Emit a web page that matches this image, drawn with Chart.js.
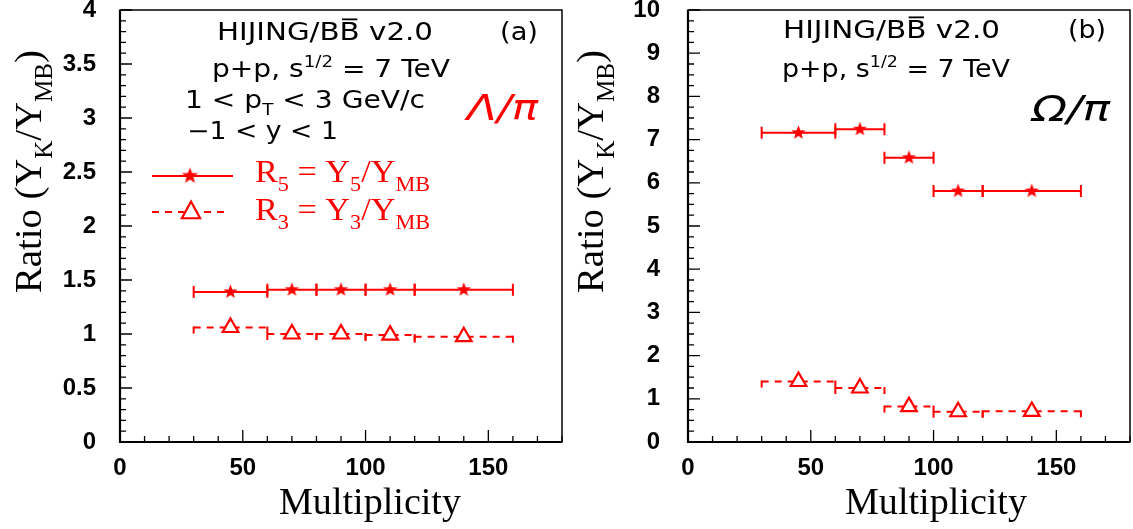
<!doctype html>
<html lang="en">
  <head>
    <meta charset="UTF-8" />
    <title>HIJING/BB v2.0 ratios</title>
    <script src="https://cdn.jsdelivr.net/npm/chart.js"></script>
    <style>
      body { margin: 0; background: white; }
      canvas { position: absolute; top: 0; }
    </style>
  </head>
  <body>
    <canvas id="panelA" width="566" height="529" style="left: 0px"></canvas>
    <canvas id="panelB" width="567" height="529" style="left: 566px"></canvas>

    <script>
      // multiplicity bins (low edge, high edge, centre)
      const binLo = [30, 60, 80, 100, 120];
      const binHi = [60, 80, 100, 120, 160];
      const binMid = [45, 70, 90, 110, 140];

      // Lambda/pi  (panel a)
      const lambdaR5 = [1.39, 1.41, 1.41, 1.41, 1.41];
      const lambdaR3 = [1.06, 1.0, 1.0, 0.99, 0.975];

      // Omega/pi  (panel b)
      const omegaR5 = [7.16, 7.24, 6.58, 5.81, 5.81];
      const omegaR3 = [1.4, 1.25, 0.82, 0.7, 0.71];

      const xTicks = [0, 50, 100, 150];
      const RED = "#ff0000";
      const SERIF = "'Liberation Serif', 'Times New Roman', serif";
      const SANS = "'DejaVu Sans', sans-serif";

      function pts(vals) {
        return vals.map((v, i) => ({ x: binMid[i], y: v, lo: binLo[i], hi: binHi[i] }));
      }

      function starCanvas(r) {
        const c = document.createElement("canvas");
        const s = Math.ceil(r * 2 + 2);
        c.width = c.height = s;
        const g = c.getContext("2d");
        g.fillStyle = RED;
        g.beginPath();
        for (let i = 0; i < 10; i++) {
          const rr = i % 2 ? r * 0.42 : r;
          const a = -Math.PI / 2 + (i * Math.PI) / 5;
          g.lineTo(s / 2 + rr * Math.cos(a), s / 2 + rr * Math.sin(a));
        }
        g.closePath();
        g.fill();
        return c;
      }
      const starImg = starCanvas(7.5);
      const bigStar = starCanvas(8.5);

      // text with sub/superscripts, optional bar, optional fit width
      function rich(ctx, x, y, parts, o) {
        const size = o.size;
        const fontFor = (p) =>
          (o.style || "") + " " + (o.weight || "") + " " +
          ((p.sub || p.sup) ? size * 0.65 : size) + "px " + o.family;
        let total = 0;
        const widths = parts.map((p) => {
          ctx.font = fontFor(p);
          const w = ctx.measureText(p.t).width;
          total += w;
          return w;
        });
        ctx.save();
        ctx.translate(x, y);
        if (o.rotate) ctx.rotate(o.rotate);
        const k = o.width ? o.width / total : 1;
        ctx.scale(k, 1);
        let cx = o.alignRight ? -total : 0;
        ctx.fillStyle = o.color || "#000";
        ctx.strokeStyle = o.color || "#000";
        ctx.textBaseline = "alphabetic";
        ctx.textAlign = "left";
        parts.forEach((p, i) => {
          ctx.font = fontFor(p);
          let dy = 0;
          if (p.sub) dy = size * 0.3;
          if (p.sup) dy = -size * 0.42;
          ctx.fillText(p.t, cx, dy);
          if (p.bar) {
            ctx.lineWidth = 1.8;
            ctx.beginPath();
            ctx.moveTo(cx + 2, -size * 0.86);
            ctx.lineTo(cx + widths[i] - 2, -size * 0.86);
            ctx.stroke();
          }
          cx += widths[i];
        });
        ctx.restore();
      }

      // pin the plot frame to the reference geometry
      const pinArea = {
        id: "pinArea",
        afterLayout(chart) {
          const p = chart.options.plugins.decor;
          const { x, y } = chart.scales;
          const a = chart.chartArea;
          a.left = p.left; a.right = p.right; a.top = 10; a.bottom = 442;
          a.width = a.right - a.left; a.height = a.bottom - a.top;
          x.left = a.left; x.right = a.right; x.width = a.width;
          x.top = a.bottom; x.bottom = chart.height; x.height = x.bottom - x.top;
          y.left = 0; y.right = a.left; y.width = a.left;
          y.top = a.top; y.bottom = a.bottom; y.height = a.height;
          x.configure();
          y.configure();
        },
      };

      const errorBars = {
        id: "errorBars",
        beforeDatasetsDraw(chart) {
          const { ctx, scales: { x, y } } = chart;
          chart.data.datasets.forEach((ds) => {
            ctx.save();
            ctx.strokeStyle = RED;
            ctx.lineWidth = 2;
            ctx.setLineDash(ds.errDash || []);
            ds.data.forEach((p) => {
              const x0 = x.getPixelForValue(p.lo);
              const x1 = x.getPixelForValue(p.hi);
              const yy = y.getPixelForValue(p.y);
              ctx.beginPath();
              ctx.moveTo(x0, yy);
              ctx.lineTo(x1, yy);
              ctx.stroke();
              [x0, x1].forEach((xc) => {
                ctx.beginPath();
                ctx.moveTo(xc, yy + 6);
                ctx.lineTo(xc, yy - 6);
                ctx.stroke();
              });
            });
            ctx.restore();
          });
        },
      };

      const decor = {
        id: "decor",
        afterDraw(chart) {
          const cfg = chart.options.plugins.decor;
          const { ctx, chartArea: a, scales: { x, y } } = chart;
          ctx.save();
          // frame
          ctx.strokeStyle = "#000";
          ctx.lineWidth = 1.5;
          ctx.strokeRect(a.left, a.top, a.right - a.left, a.bottom - a.top);
          ctx.lineWidth = 2.2;
          ctx.beginPath();
          ctx.moveTo(a.left, a.top);
          ctx.lineTo(a.left, a.bottom);
          ctx.lineTo(a.right, a.bottom);
          ctx.stroke();
          // ticks, inward
          ctx.lineWidth = 1.3;
          ctx.beginPath();
          for (let v = 0; v <= 180 + 1e-9; v += 10) {
            const px = x.getPixelForValue(v);
            const len = v % 50 === 0 ? 12 : 6;
            ctx.moveTo(px, a.bottom);
            ctx.lineTo(px, a.bottom - len);
          }
          const nMinor = Math.round(cfg.yMax / cfg.yMinor);
          const per = Math.round(cfg.yStep / cfg.yMinor);
          for (let i = 0; i <= nMinor; i++) {
            const py = y.getPixelForValue(i * cfg.yMinor);
            const len = i % per === 0 ? 12 : 6;
            ctx.moveTo(a.left, py);
            ctx.lineTo(a.left + len, py);
          }
          ctx.stroke();
          ctx.restore();

          // axis titles
          rich(ctx, 461, 514, [{ t: "Multiplicity" }], { size: 37, family: SERIF, alignRight: true, width: 182 });
          rich(ctx, cfg.yTitleX, 50,
            [{ t: "Ratio (Y" }, { t: "K", sub: true }, { t: "/Y" }, { t: "MB", sub: true }, { t: ")" }],
            { size: 38, family: SERIF, rotate: -Math.PI / 2, alignRight: true, width: 243 });

          // annotations
          cfg.notes.forEach((n) => rich(ctx, n.x, n.y, n.parts, Object.assign({ family: SANS }, n)));

          if (cfg.legend) {
            ctx.save();
            ctx.strokeStyle = RED;
            ctx.lineWidth = 2;
            ctx.beginPath();
            ctx.moveTo(152, 176);
            ctx.lineTo(233, 176);
            ctx.stroke();
            ctx.drawImage(bigStar, 190 - bigStar.width / 2, 176 - bigStar.height / 2);
            ctx.setLineDash([7, 6]);
            ctx.beginPath();
            ctx.moveTo(152, 212);
            ctx.lineTo(230, 212);
            ctx.stroke();
            ctx.setLineDash([]);
            ctx.fillStyle = "#fff";
            ctx.lineWidth = 2.2;
            const r = 10.5;
            ctx.beginPath();
            ctx.moveTo(191, 212 - r);
            ctx.lineTo(191 + r * 0.866, 212 + r * 0.5 + 1);
            ctx.lineTo(191 - r * 0.866, 212 + r * 0.5 + 1);
            ctx.closePath();
            ctx.fill();
            ctx.stroke();
            ctx.restore();
            const lo = { size: 31, family: SERIF, color: RED, width: 175 };
            rich(ctx, 255, 182,
              [{ t: "R" }, { t: "5", sub: true }, { t: " = Y" }, { t: "5", sub: true }, { t: "/Y" }, { t: "MB", sub: true }], lo);
            rich(ctx, 255, 220,
              [{ t: "R" }, { t: "3", sub: true }, { t: " = Y" }, { t: "3", sub: true }, { t: "/Y" }, { t: "MB", sub: true }], lo);
          }
        },
      };

      const tickFont = { family: "'Liberation Sans', Arial, sans-serif", weight: "bold", size: 24 };

      function makePanel(id, r5, r3, p) {
        return new Chart(document.getElementById(id), {
          type: "scatter",
          data: {
            datasets: [
              { label: "R5", data: pts(r5), pointStyle: starImg, pointRadius: 7,
                borderColor: RED, backgroundColor: RED },
              { label: "R3", data: pts(r3), pointStyle: "triangle", pointRadius: 9, borderWidth: 2.2,
                borderColor: RED, backgroundColor: "#fff", errDash: [7, 6] },
            ],
          },
          options: {
            responsive: false,
            animation: false,
            events: [],
            layout: { padding: { left: 0, top: 10, right: 4, bottom: 0 } },
            plugins: {
              legend: { display: false },
              tooltip: { enabled: false },
              decor: p,
            },
            scales: {
              x: {
                type: "linear", min: 0, max: 180,
                grid: { display: false, drawTicks: false }, border: { display: false },
                afterBuildTicks: (s) => { s.ticks = xTicks.map((v) => ({ value: v })); },
                ticks: { padding: 12, font: tickFont, color: "#000", maxRotation: 0, callback: (v) => String(v) },
                afterFit: (s) => { s.height = 87; s.paddingLeft = 0; s.paddingRight = 0; },
              },
              y: {
                type: "linear", min: 0, max: p.yMax,
                grid: { display: false, drawTicks: false }, border: { display: false },
                ticks: { stepSize: p.yStep, padding: p.yPad, font: tickFont, color: "#000",
                  callback: (v) => String(+v.toFixed(2)) },
                afterFit: (s) => { s.width = p.left; s.paddingTop = 0; s.paddingBottom = 0; },
              },
            },
          },
          plugins: [pinArea, errorBars, decor],
        });
      }

      makePanel("panelA", lambdaR5, lambdaR3, {
        left: 120, right: 562,
        yMax: 4, yStep: 0.5, yMinor: 0.1, yPad: 24, yTitleX: 41, legend: true,
        notes: [
          { x: 217, y: 40, size: 24, width: 216, parts: [{ t: "HIJING/B" }, { t: "B", bar: true }, { t: " v2.0" }] },
          { x: 500, y: 40, size: 24, width: 38, parts: [{ t: "(a)" }] },
          { x: 212, y: 77, size: 24, width: 238, parts: [{ t: "p+p, s" }, { t: "1/2", sup: true }, { t: " = 7 TeV" }] },
          { x: 185, y: 108, size: 24, width: 240, parts: [{ t: "1 < p" }, { t: "T", sub: true }, { t: " < 3 GeV/c" }] },
          { x: 187, y: 139, size: 24, width: 151, parts: [{ t: "\u22121 < y < 1" }] },
          { x: 467, y: 120, size: 36, width: 71, style: "italic", color: RED, parts: [{ t: "\u039B/\u03C0" }] },
        ],
      });

      makePanel("panelB", omegaR5, omegaR3, {
        left: 122, right: 564,
        yMax: 10, yStep: 1, yMinor: 0.25, yPad: 28, yTitleX: 37, legend: false,
        notes: [
          { x: 217, y: 38, size: 24, width: 217, parts: [{ t: "HIJING/B" }, { t: "B", bar: true }, { t: " v2.0" }] },
          { x: 502, y: 38, size: 24, width: 38, parts: [{ t: "(b)" }] },
          { x: 216, y: 77, size: 24, width: 228, parts: [{ t: "p+p, s" }, { t: "1/2", sup: true }, { t: " = 7 TeV" }] },
          { x: 466, y: 121, size: 36, width: 78, style: "italic", parts: [{ t: "\u03A9/\u03C0" }] },
        ],
      });
    </script>
  </body>
</html>
